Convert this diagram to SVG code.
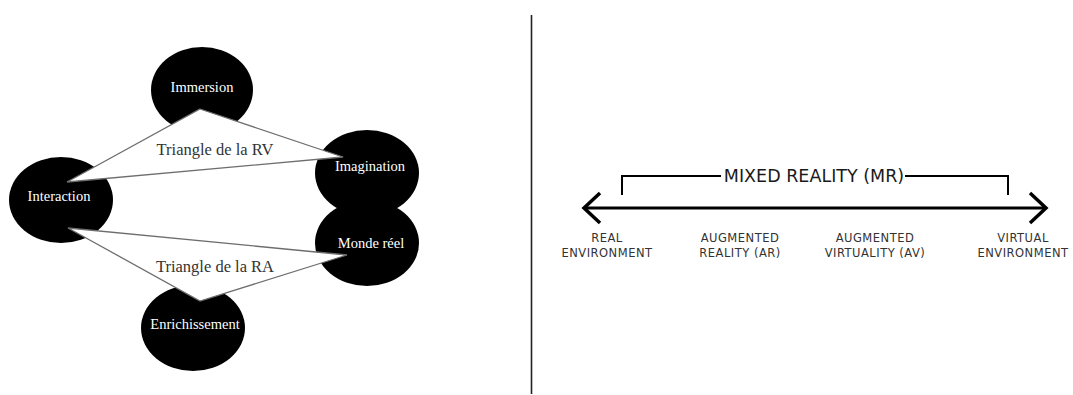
<svg xmlns="http://www.w3.org/2000/svg" width="1073" height="395" viewBox="0 0 1073 395">
<style>
.node{fill:#000}
.nl{font-family:"Liberation Serif",serif;font-size:14.5px;fill:#fff;text-anchor:middle}
.tri{fill:#fff;stroke:#6e6e6e;stroke-width:1.3}
.tl{font-family:"Liberation Serif",serif;font-size:16.5px;fill:#333;text-anchor:middle}
.ax{font-family:"DejaVu Sans",sans-serif;font-size:11.5px;letter-spacing:0.5px;fill:#333;text-anchor:middle}
</style>
<rect width="1073" height="395" fill="#fff"/>
<g id="left">
<g id="node-shapes">
<ellipse id="immersion-shape" class="node" cx="202" cy="90" rx="51" ry="43"/>
<ellipse id="interaction-shape" class="node" cx="61" cy="200" rx="52" ry="43"/>
<ellipse id="imagination-shape" class="node" cx="367" cy="173" rx="52" ry="43"/>
<ellipse id="monde-shape" class="node" cx="367" cy="243" rx="52" ry="43"/>
<ellipse id="enrichissement-shape" class="node" cx="193" cy="328" rx="52" ry="43"/>
</g>
<g id="connectors">
<polygon class="tri" points="200,109 343,157 67,182"/>
<polygon class="tri" points="68,228 347,255 200,301"/>
</g>
<g id="immersion"><text class="nl" x="202" y="92">Immersion</text></g>
<g id="interaction"><text class="nl" x="59" y="201">Interaction</text></g>
<g id="imagination"><text class="nl" x="370" y="171">Imagination</text></g>
<g id="monde"><text class="nl" x="371" y="248">Monde réel</text></g>
<g id="enrichissement"><text class="nl" x="195" y="329">Enrichissement</text></g>
<g id="triangle-rv"><text class="tl" x="215" y="155">Triangle de la RV</text></g>
<g id="triangle-ra"><text class="tl" x="215" y="272">Triangle de la RA</text></g>
</g>
<line x1="531.5" y1="15" x2="531.5" y2="394" stroke="#222" stroke-width="1.6"/>
<g id="right">
<g id="axis" fill="none" stroke="#000">
<line x1="584" y1="208" x2="1046" y2="208" stroke-width="3"/>
<polyline points="600,193 584,208 600,223" stroke-width="3.5" stroke-linejoin="miter"/>
<polyline points="1030,193 1046,208 1030,223" stroke-width="3.5" stroke-linejoin="miter"/>
<polyline points="622,195 622,176 721,176" stroke-width="2"/>
<polyline points="905,176 1008,176 1008,195" stroke-width="2"/>
</g>
<g id="mr"><text x="814" y="182" font-family="DejaVu Sans, sans-serif" font-size="17.5" fill="#1a1a1a" text-anchor="middle">MIXED REALITY (MR)</text></g>
<g id="real-env"><text class="ax" x="607" y="242">REAL</text><text class="ax" x="607" y="257">ENVIRONMENT</text></g>
<g id="ar"><text class="ax" x="740" y="242">AUGMENTED</text><text class="ax" x="740" y="257">REALITY (AR)</text></g>
<g id="av"><text class="ax" x="875" y="242">AUGMENTED</text><text class="ax" x="875" y="257">VIRTUALITY (AV)</text></g>
<g id="virtual-env"><text class="ax" x="1023" y="242">VIRTUAL</text><text class="ax" x="1023" y="257">ENVIRONMENT</text></g>
</g>
</svg>
